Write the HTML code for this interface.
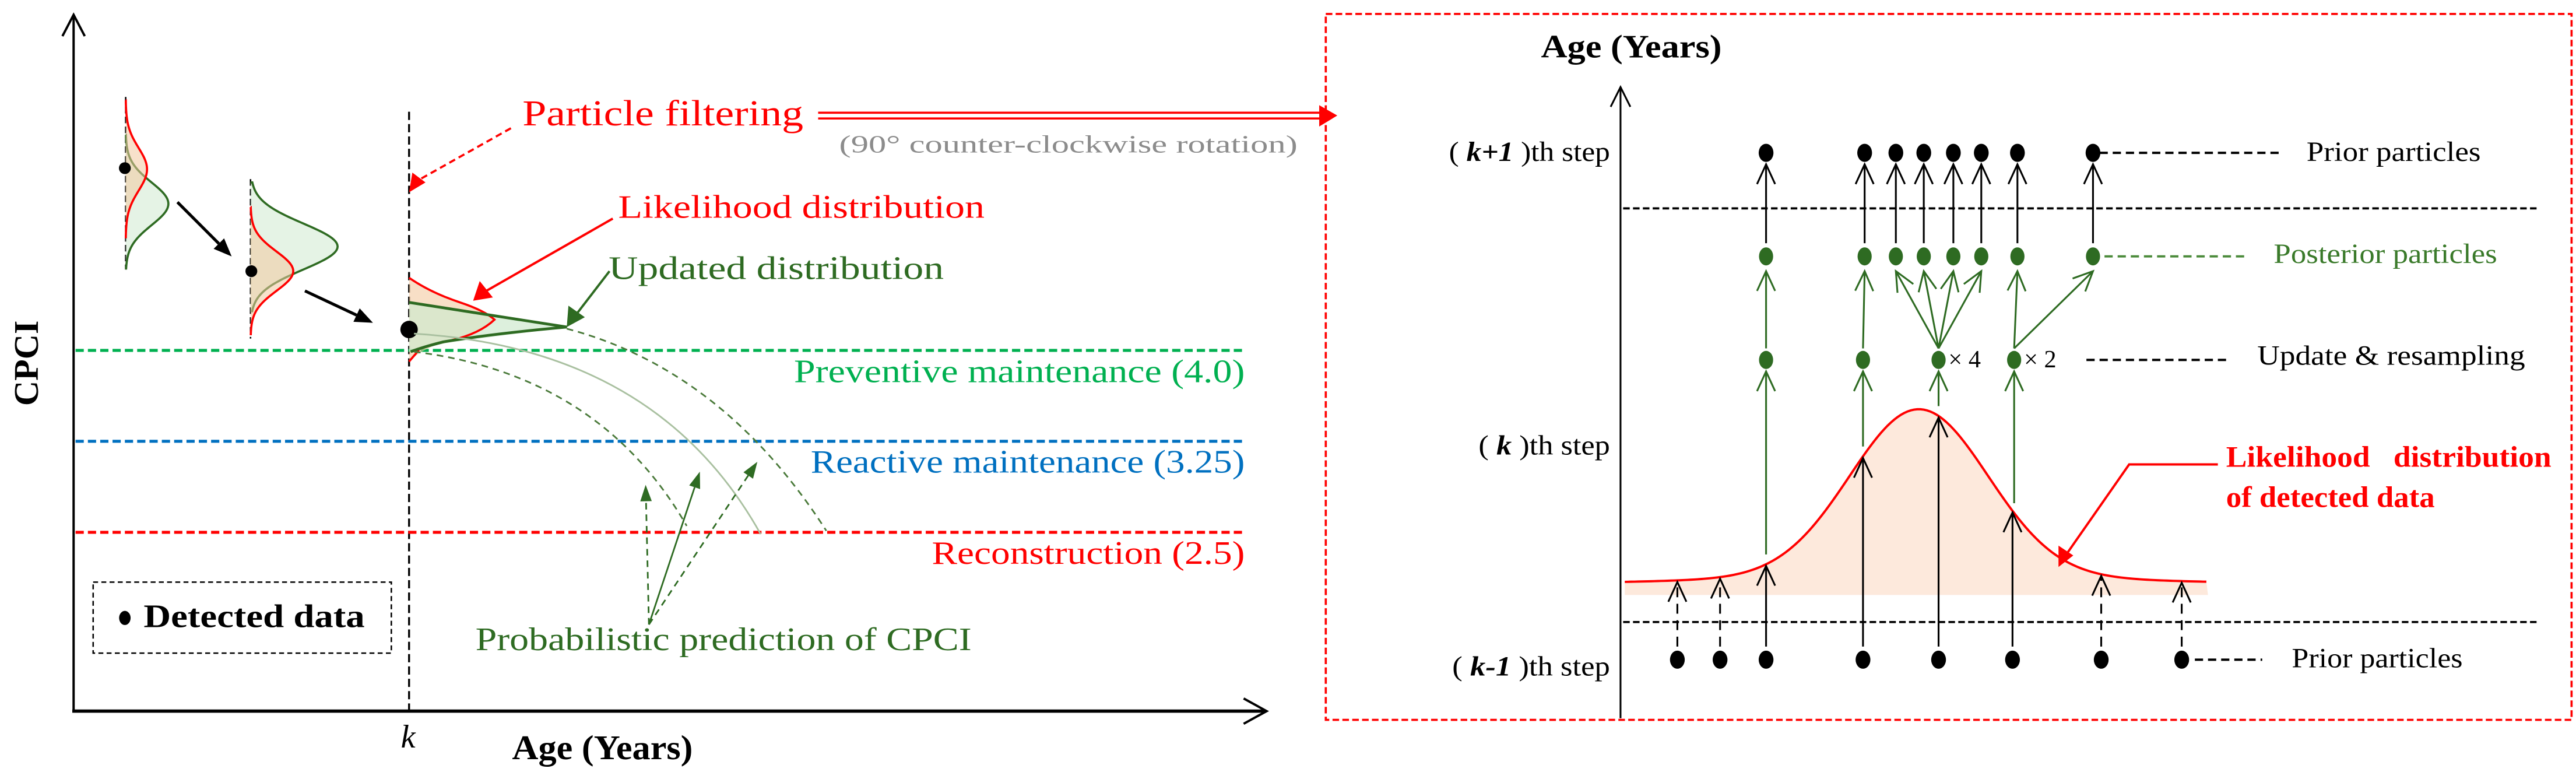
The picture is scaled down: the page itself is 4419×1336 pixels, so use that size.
<!DOCTYPE html>
<html>
<head>
<meta charset="utf-8">
<style>
html,body{margin:0;padding:0;background:#fff;}
svg{display:block;font-family:"Liberation Serif",serif;}
svg text{font-family:"Liberation Serif",serif;}
</style>
</head>
<body>
<svg id="fig" xmlns="http://www.w3.org/2000/svg" width="4419" height="1336" viewBox="0 0 1568 474" preserveAspectRatio="none" font-family="Liberation Serif, serif">
<g id="left" font-family="Liberation Serif, serif"></g>
<g id="right" font-family="Liberation Serif, serif"></g>
</svg>
<script>
// ---- data (right panel particle positions along age axis, in diagram units) ----
const priorKm1X = [1021, 1047, 1075, 1134, 1180, 1225, 1279, 1328];
const priorKm1Dashed = [true, true, false, false, false, false, true, true];
const updateX = [1075, 1134, 1180, 1226];
const updateMult = ["", "", "\u00d7 4", "\u00d7 2"];
const posteriorX = [1075, 1135, 1154, 1171, 1189, 1206, 1228, 1274];
const posteriorSrc = [0, 1, 2, 2, 2, 2, 3, 3];
const likeMean = [1168];
const likeSd = [42];
const likePeak = [102];
const baseY = 356;
function likeY(x){
  return baseY - likePeak[0]*Math.exp(-Math.pow(x-likeMean[0],2)/(2*likeSd[0]*likeSd[0]))
               - 5*Math.exp(-Math.pow(x-likeMean[0],2)/(2*130*130));
}
const NS="http://www.w3.org/2000/svg";
function el(tag, attrs, parent, txt){
  const e=document.createElementNS(NS,tag);
  for(const k in attrs) e.setAttribute(k,attrs[k]);
  if(tag==='text') e.setAttribute('font-family','Liberation Serif, serif');
  if(txt!==undefined) e.textContent=txt;
  parent.appendChild(e); return e;
}
const L=document.getElementById('left'), R=document.getElementById('right');
const DG="#2e6b22", GR="#00b050", BL="#0070c0", RD="#ff0000";
function upHead(x,y,col,parent){
  const h=el('path',{d:`M${x-5.5},${y+12} L${x},${y} L${x+5.5},${y+12}`,fill:'none',stroke:col,'stroke-width':1.1},parent);
  return h;
}

// ================= LEFT PANEL =================
let e;
e=el('line',{x1:44.8,y1:433,x2:44.8,y2:9,stroke:'#000','stroke-width':1.4},L);
 
e=el('path',{d:'M38,22 L44.8,9 L51.6,22',fill:'none',stroke:'#000','stroke-width':1.4},L);
 
e=el('line',{x1:44,y1:432.7,x2:770,y2:432.7,stroke:'#000','stroke-width':2},L);
 
e=el('path',{d:'M757,425 L771,432.7 L757,440.4',fill:'none',stroke:'#000','stroke-width':1.4},L);
 
e=el('text',{x:0,y:0,transform:'translate(23,221) rotate(-90)','text-anchor':'middle','font-size':21,'font-weight':'bold',textLength:52,lengthAdjust:'spacingAndGlyphs'},L,'CPCI');
 
e=el('text',{x:311.7,y:461.9,'font-size':21,'font-weight':'bold',textLength:110,lengthAdjust:'spacingAndGlyphs'},L,'Age (Years)');
 
e=el('text',{x:244,y:454.8,'font-size':20,'font-style':'italic'},L,'k');
 
e=el('line',{x1:249,y1:68,x2:249,y2:433,stroke:'#000','stroke-width':1.2,'stroke-dasharray':'5,2.5'},L);
 

const thr=[[213.2,GR,'Preventive maintenance (4.0)',483.3,232.5,'preventive-threshold'],
           [268.5,BL,'Reactive maintenance (3.25)',493.5,287.5,'reactive-threshold'],
           [323.9,RD,'Reconstruction (2.5)',567.2,343.1,'reconstruction-threshold']];
thr.forEach(t=>{
  e=el('line',{x1:46,y1:t[0],x2:757,y2:t[0],stroke:t[1],'stroke-width':1.8,'stroke-dasharray':'5,2.5'},L);
   
  e=el('text',{x:t[3],y:t[4],'font-size':20,fill:t[1],textLength:757.7-t[3],lengthAdjust:'spacingAndGlyphs'},L,t[2]);
   
});

function sideDist(x0,y1,y2,mu,sd,amp,stroke,fill,name){
  let d='M'+x0+','+y1;
  for(let y=y1;y<=y2;y+=1){ d+=' L'+(x0+amp*Math.exp(-Math.pow(y-mu,2)/(2*sd*sd))).toFixed(2)+','+y; }
  d+=' L'+x0+','+y2+' Z';
  const p=el('path',{d:d,fill:fill,'fill-opacity':0.55,stroke:'none'},L);
   
  let d2='M'+x0+','+y1;
  for(let y=y1;y<=y2;y+=1){ d2+=' L'+(x0+amp*Math.exp(-Math.pow(y-mu,2)/(2*sd*sd))).toFixed(2)+','+y; }
  const q=el('path',{d:d2,fill:'none',stroke:stroke,'stroke-width':1.3},L);
   
}
e=el('line',{x1:76.5,y1:59,x2:76.5,y2:164,stroke:'#000','stroke-width':0.9,'stroke-dasharray':'4,2'},L);
 
sideDist(76.5,82,164,124,13,26,DG,'#cfe9cf','dist1-prior');
sideDist(76.5,61,145,103,13,13,RD,'#f3c9a0','dist1-likelihood');
e=el('circle',{cx:76,cy:102.3,r:3.6,fill:'#000'},L);
 
e=el('line',{x1:152.5,y1:109,x2:152.5,y2:206,stroke:'#000','stroke-width':0.9,'stroke-dasharray':'4,2'},L);
 
sideDist(152.5,111,190,150,14,53,DG,'#cfe9cf','dist2-prior');
sideDist(152.5,126,204,165,12,26,RD,'#f3c9a0','dist2-likelihood');
e=el('circle',{cx:153,cy:165,r:3.6,fill:'#000'},L);
 
[[108,123,141,156],[185.6,177,227,196.4]].forEach((a,i)=>{
  const ang=Math.atan2(a[3]-a[1],a[2]-a[0]);
  const bx=a[2]-11*Math.cos(ang), by=a[3]-11*Math.sin(ang);
  e=el('line',{x1:a[0],y1:a[1],x2:bx,y2:by,stroke:'#000','stroke-width':1.8},L);
   
  const px=-Math.sin(ang)*4.5, py=Math.cos(ang)*4.5;
  e=el('polygon',{points:`${a[2]},${a[3]} ${bx+px},${by+py} ${bx-px},${by-py}`,fill:'#000'},L);
   
});
e=el('path',{d:'M249,169 Q262,178 280,184 Q298,190 301,194.5 Q290,205 265,210 Q255,214 249,220 Z',fill:'#f3c9a0','fill-opacity':0.6},L);
 
e=el('path',{d:'M249,184 L345,199 L262,210 Q254,212 249,214 Z',fill:'#cfe9cf','fill-opacity':0.7},L);
 
e=el('path',{d:'M249,169 Q262,178 280,184 Q295,189 301,194.5 Q292,203 275,207',fill:'none',stroke:RD,'stroke-width':1.3},L);
 
e=el('path',{d:'M255,213 L249,220',fill:'none',stroke:RD,'stroke-width':1.3},L);
 
e=el('path',{d:'M249,184 L345,199 Q300,203 270,208 Q258,211 250,214',fill:'none',stroke:DG,'stroke-width':1.7},L);
 
e=el('circle',{cx:249,cy:200.5,r:5.3,fill:'#000'},L);
 
e=el('path',{d:'M345,200 Q440,225 503,323',fill:'none',stroke:'#4a7a3a','stroke-width':1,'stroke-dasharray':'4,3'},L);
 
e=el('path',{d:'M252,203 Q400,212 463,325',fill:'none',stroke:'#a9c0a0','stroke-width':1},L);
 
e=el('path',{d:'M252,214 Q365,228 418,320',fill:'none',stroke:'#4a7a3a','stroke-width':1,'stroke-dasharray':'4,3'},L);
 
[[393,295,true],[426,287,false],[461,281,true]].forEach((a,i)=>{
  const x0=395,y0=380;
  const ang=Math.atan2(a[1]-y0,a[0]-x0);
  const bx=a[0]-10*Math.cos(ang), by=a[1]-10*Math.sin(ang);
  const at={x1:x0,y1:y0,x2:bx,y2:by,stroke:DG,'stroke-width':1};
  if(a[2]) at['stroke-dasharray']='4,3';
  e=el('line',at,L);
   
  const px=-Math.sin(ang)*3.5, py=Math.cos(ang)*3.5;
  e=el('polygon',{points:`${a[0]},${a[1]} ${bx+px},${by+py} ${bx-px},${by-py}`,fill:DG},L);
   
});
e=el('text',{x:289.4,y:395.6,'font-size':20,fill:DG,textLength:302,lengthAdjust:'spacingAndGlyphs'},L,'Probabilistic prediction of CPCI');
 
e=el('rect',{x:56.7,y:354.2,width:181.5,height:43.2,fill:'none',stroke:'#000','stroke-width':0.9,'stroke-dasharray':'3,2'},L);
 
e=el('ellipse',{cx:76,cy:376,rx:3.5,ry:4.3,fill:'#000'},L);
 
e=el('text',{x:87.4,y:381.5,'font-size':20,'font-weight':'bold',textLength:134.6,lengthAdjust:'spacingAndGlyphs'},L,'Detected data');
 
e=el('text',{x:318,y:76.3,'font-size':22,fill:RD,textLength:171,lengthAdjust:'spacingAndGlyphs'},L,'Particle filtering');
 
e=el('line',{x1:311,y1:78,x2:254,y2:110,stroke:RD,'stroke-width':1.3,'stroke-dasharray':'4,2.5'},L);
 
e=el('polygon',{points:'249,117 251,105 259,111',fill:RD},L);
 
e=el('line',{x1:498,y1:68.6,x2:806,y2:68.6,stroke:RD,'stroke-width':1.3},L);
 
e=el('line',{x1:498,y1:72.1,x2:806,y2:72.1,stroke:RD,'stroke-width':1.3},L);
 
e=el('polygon',{points:'814,70.3 803,64 803,77',fill:RD},L);
 
e=el('text',{x:510.8,y:92.8,'font-size':15,fill:'#8c8c8c',textLength:279,lengthAdjust:'spacingAndGlyphs'},L,'(90\u00b0 counter-clockwise rotation)');
 
e=el('text',{x:376.3,y:132.5,'font-size':20,fill:RD,textLength:223,lengthAdjust:'spacingAndGlyphs'},L,'Likelihood distribution');
 
e=el('line',{x1:373,y1:133,x2:296,y2:177,stroke:RD,'stroke-width':1.4},L);
 
e=el('polygon',{points:'288,183 292,171 300,181',fill:RD},L);
 
e=el('text',{x:370.5,y:169.7,'font-size':20,fill:DG,textLength:204,lengthAdjust:'spacingAndGlyphs'},L,'Updated distribution');
 
e=el('line',{x1:371,y1:165,x2:351,y2:191,stroke:DG,'stroke-width':1.4},L);
 
e=el('polygon',{points:'345,199 346,186 356,193',fill:DG},L);
 

// ================= RIGHT PANEL =================
e=el('rect',{x:807,y:8.5,width:758.3,height:429.5,fill:'none',stroke:RD,'stroke-width':1.3,'stroke-dasharray':'4,2'},R);
 
e=el('line',{x1:986.4,y1:437,x2:986.4,y2:53,stroke:'#000','stroke-width':1.1},R);
 
e=el('path',{d:'M980.4,65 L986.4,53 L992.4,65',fill:'none',stroke:'#000','stroke-width':1.1},R);
 
e=el('text',{x:938,y:35,'font-size':20,'font-weight':'bold',textLength:110,lengthAdjust:'spacingAndGlyphs'},R,'Age (Years)');
 
const stepLbl=[[98,'k+1',882,'k-plus-1-step-label'],[276.5,'k',900,'k-step-label'],[411,'k-1',884,'k-minus-1-step-label']];
stepLbl.forEach(s=>{
  const t=el('text',{x:s[2],y:s[0],'font-size':17,textLength:980-s[2],lengthAdjust:'spacingAndGlyphs'},R);
   
  t.appendChild(document.createTextNode('( '));
  el('tspan',{'font-weight':'bold','font-style':'italic'},t,s[1]);
  t.appendChild(document.createTextNode(' )th step'));
});
[126.8,378.5].forEach((y,i)=>{
  e=el('line',{x1:988,y1:y,x2:1546,y2:y,stroke:'#000','stroke-width':1.3,'stroke-dasharray':'4,2'},R);
   
});
let dFill='M989,362', dLine='';
for(let x=989;x<=1344;x+=2){ const y=likeY(x).toFixed(2); dFill+=' L'+x+','+y; dLine+=(dLine?' L':'M')+x+','+y; }
dFill+=' L1344,362 Z';
e=el('path',{d:dFill,fill:'#fde9dc'},R);
 
e=el('path',{d:dLine,fill:'none',stroke:RD,'stroke-width':1.4},R);
 
const yKm1=401.4;
priorKm1X.forEach((x,i)=>{
  const top=likeY(x)+1;
  const a={x1:x,y1:yKm1-8,x2:x,y2:top,stroke:'#000','stroke-width':1.1};
  if(priorKm1Dashed[i]) a['stroke-dasharray']='6,4';
  e=el('line',a,R);
   
  e=upHead(x,top,'#000',R);
   
  e=el('ellipse',{cx:x,cy:yKm1,rx:4.5,ry:5.5,fill:'#000'},R);
   
});
const yUpd=219;
updateX.forEach((x,i)=>{
  e=el('line',{x1:x,y1:likeY(x)-6,x2:x,y2:yUpd+7,stroke:DG,'stroke-width':1.1},R);
   
  e=upHead(x,yUpd+7,DG,R);
   
  e=el('ellipse',{cx:x,cy:yUpd,rx:4.3,ry:5.5,fill:DG},R);
   
  if(updateMult[i]){
    e=el('text',{x:x+6,y:yUpd+4.5,'font-size':15},R,updateMult[i]);
     
  }
});
const yPost=156, yPri=93;
posteriorX.forEach((x,i)=>{
  const sx=updateX[posteriorSrc[i]];
  const hx=x, hy=yPost+9;
  const ang=Math.atan2(hy-(yUpd-7),hx-sx);
  e=el('line',{x1:sx,y1:yUpd-7,x2:hx,y2:hy,stroke:DG,'stroke-width':1.1},R);
   
  const c=Math.cos(ang), s=Math.sin(ang);
  const p1x=hx-12*c+5.5*s, p1y=hy-12*s-5.5*c, p2x=hx-12*c-5.5*s, p2y=hy-12*s+5.5*c;
  e=el('path',{d:`M${p1x},${p1y} L${hx},${hy} L${p2x},${p2y}`,fill:'none',stroke:DG,'stroke-width':1.1},R);
   
  e=el('ellipse',{cx:x,cy:yPost,rx:4.3,ry:5.5,fill:DG},R);
   
  e=el('line',{x1:x,y1:yPost-8,x2:x,y2:yPri+7,stroke:'#000','stroke-width':1.1},R);
   
  e=upHead(x,yPri+7,'#000',R);
   
  e=el('ellipse',{cx:x,cy:yPri,rx:4.5,ry:5.5,fill:'#000'},R);
   
});
const rl=[[1278,1388,98,'#000',1404,1510,'Prior particles',yPri,'prior-particles-top'],
          [1281,1369,160,'#3a7a2a',1384,1520,'Posterior particles',yPost,'posterior-particles'],
          [1270,1357,222,'#000',1374,1537,'Update & resampling',yUpd,'update-resampling'],
          [1336,1377,406,'#000',1395,1499,'Prior particles',yKm1,'prior-particles-bottom']];
rl.forEach(r=>{
  e=el('line',{x1:r[0],y1:r[7],x2:r[1],y2:r[7],stroke:(r[3]==='#3a7a2a'?'#4a8a3a':'#000'),'stroke-width':1.4,'stroke-dasharray':'5,3'},R);
   
  e=el('text',{x:r[4],y:r[2],'font-size':17,fill:r[3],textLength:r[5]-r[4],lengthAdjust:'spacingAndGlyphs'},R,r[6]);
   
});
e=el('text',{x:1355,y:284,'font-size':18,'font-weight':'bold',fill:RD,textLength:198,lengthAdjust:'spacingAndGlyphs'},R,'Likelihood \u00a0 distribution');
 
e=el('text',{x:1355,y:308.5,'font-size':18,'font-weight':'bold',fill:RD,textLength:127,lengthAdjust:'spacingAndGlyphs'},R,'of detected data');
 
e=el('path',{d:'M1350,282.6 L1296,282.6 L1258,337',fill:'none',stroke:RD,'stroke-width':1.4},R);
 
e=el('polygon',{points:'1253,345 1253,332 1262,338',fill:RD},R);
 
</script>
</body>
</html>
